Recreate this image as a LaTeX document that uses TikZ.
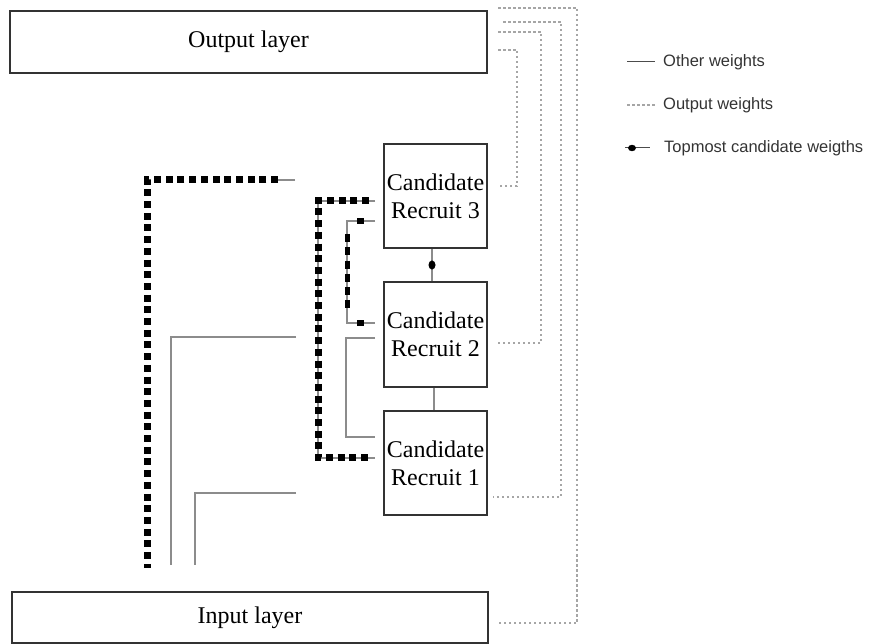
\documentclass[tikz,border=0pt]{standalone}
\usepackage{fontspec}
\setmainfont{Liberation Serif}
\newfontfamily\legendfont{Liberation Sans}
\begin{document}
\begin{tikzpicture}[x=1pt,y=-1pt,
  box/.style={draw=black!80,line width=1.8pt,inner sep=0pt,align=center,font=\fontsize{24}{28}\selectfont},
  other/.style={draw=black!45,line width=1.4pt},
  outw/.style={draw=black!35,line width=2pt,dash pattern=on 2.5pt off 2.5pt},
  topw/.style={draw=black,line width=7pt,dash pattern=on 7pt off 4.7pt},
  topthin/.style={draw=black,line width=5pt,dash pattern=on 8pt off 5.3pt},
  dotmark/.style={fill=black,circle,inner sep=0pt,minimum size=8pt},
  sqmark/.style={fill=black,rectangle,inner sep=0pt,minimum width=7pt,minimum height=5.5pt},
  legtext/.style={anchor=west,text=black!80,inner sep=0pt,font=\legendfont\fontsize{16.5}{18}\selectfont}]
\useasboundingbox (0,0) rectangle (871,644);

% layers
\node[box,minimum width=477pt,minimum height=62pt] (out) at (248.5,42) {Output layer};
\node[box,minimum width=476pt,minimum height=51pt] (in) at (250,617.5) {Input layer};

% candidates
\node[box,minimum width=103pt,minimum height=104pt] (cr3) at (435.5,196) {Candidate\\Recruit 3};
\node[box,minimum width=103pt,minimum height=105pt] (cr2) at (435.5,334.5) {Candidate\\Recruit 2};
\node[box,minimum width=103pt,minimum height=104pt] (cr1) at (435.5,463) {Candidate\\Recruit 1};

% other weights (solid gray)
\coordinate (a1) at (296,337); \coordinate (a2) at (171,565);
\draw[other] (a1) -| (a2);
\coordinate (b1) at (296,493); \coordinate (b2) at (195,565);
\draw[other] (b1) -| (b2);
\coordinate (c1) at (375,338); \coordinate (c2) at (346,338);
\coordinate (c3) at (346,437); \coordinate (c4) at (375,437);
\draw[other] (c1) -- (c2) -- (c3) -- (c4);
\draw[other] ([xshift=-1.5pt]cr2.south) -- ([xshift=-1.5pt]cr1.north);

% topmost candidate weights
\coordinate (t1a) at (295,180); \coordinate (t1b) at (278,180);
\coordinate (t1c) at (147,180); \coordinate (t1d) at (147,568);
\draw[other] (t1a) -- (t1b);
\draw[topw] (t1b) -- (t1c) -- (t1d);

\coordinate (t2a) at (375,201); \coordinate (t2b) at (318,201);
\coordinate (t2c) at (318,458); \coordinate (t2d) at (375,458);
\draw[other] (t2a) -- (t2b) -- (t2c) -- (t2d);
\draw[topw] (369,201) -- (t2b) -- (t2c) -- (369,458);

\coordinate (t3a) at (375,221); \coordinate (t3b) at (347,221);
\coordinate (t3c) at (347,323); \coordinate (t3d) at (375,323);
\draw[other] (t3a) -- (t3b) -- (t3c) -- (t3d);
\draw[topthin] (347,234) -- (347,309);
\node[sqmark] at (360,221) {};
\node[sqmark] at (360,323) {};

\draw[other] ([xshift=-3.5pt]cr3.south) -- ([xshift=-3.5pt]cr2.north)
  node[midway,dotmark,minimum size=7pt,yscale=1.3] {};

% output weights (dotted)
\coordinate (o1a) at (498,50); \coordinate (o1b) at (517,186); \coordinate (o1c) at (498,186);
\draw[outw] (o1a) -| (o1b) -- (o1c);
\coordinate (o2a) at (498,32); \coordinate (o2b) at (541,343); \coordinate (o2c) at (496,343);
\draw[outw] (o2a) -| (o2b) -- (o2c);
\coordinate (o3a) at (503,22); \coordinate (o3b) at (561,497); \coordinate (o3c) at (493,497);
\draw[outw] (o3a) -| (o3b) -- (o3c);
\coordinate (o4a) at (498,8); \coordinate (o4b) at (577,623); \coordinate (o4c) at (497,623);
\draw[outw] (o4a) -| (o4b) -- (o4c);

% legend
\coordinate (l1a) at (627,62); \coordinate (l1b) at (655,62);
\draw[other,line width=1pt,draw=black!70] (l1a) -- (l1b);
\node[legtext] (l1) at (663,62) {Other weights};
\coordinate (l2a) at (627,105); \coordinate (l2b) at (655,105);
\draw[outw,line width=1.3pt] (l2a) -- (l2b);
\node[legtext] (l2) at (663,105) {Output weights};
\coordinate (l3a) at (625,148); \coordinate (l3b) at (650,148);
\draw[draw=black!70,line width=1pt] (l3a) -- (l3b);
\node[dotmark,minimum size=8pt,yscale=0.8] at (632,148) {};
\node[legtext] (l3) at (664,148) {Topmost candidate weigths};
\end{tikzpicture}
\end{document}
